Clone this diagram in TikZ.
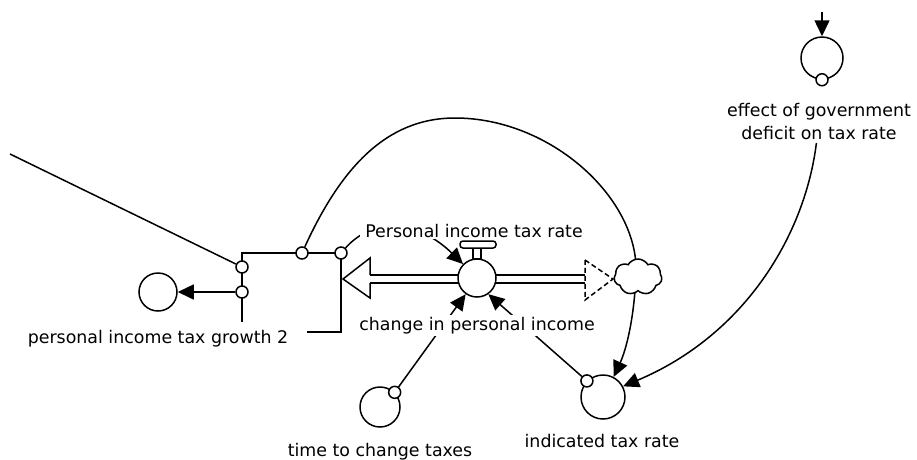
\documentclass[tikz,border=0pt]{standalone}
\usepackage{fontspec}
\setmainfont{DejaVu Sans}
\usetikzlibrary{arrows.meta,shapes.symbols,backgrounds,positioning}

\begin{document}
\begin{tikzpicture}[x=1pt,y=-1pt,line width=1.5pt,
    >={Triangle[length=16pt,width=15pt]},
    aux/.style={circle,draw,fill=white,minimum size=40pt,inner sep=0pt},
    pin/.style={circle,draw,fill=white,minimum size=12pt,inner sep=0pt},
    lbl/.style={fill=white,inner xsep=5pt,inner ysep=2pt,anchor=base,
                font=\fontsize{17.4}{23}\selectfont}]
  \useasboundingbox (0,0) rectangle (917,459);
  % auxiliaries and valve
  \node[aux,minimum size=38pt] (growth) at (158,292) {};
  \node[aux] (time) at (380,407) {};
  \node[aux,minimum size=44pt] (indicated) at (603,397) {};
  \node[aux,minimum size=42pt] (effect) at (822,58) {};
  \node[aux,minimum size=38pt] (valve) at (477,278) {};
  \node[cloud,draw,fill=white,cloud puffs=7,cloud puff arc=120,aspect=1.3,
        minimum width=48pt,minimum height=36pt,inner sep=0pt] (sink) at (638,277) {};
  % small pins
  \node[pin] (pa) at (242,267) {};
  \node[pin] (pb) at (242,292) {};
  \node[pin] (pc) at (302,253) {};
  \node[pin] (pd) at (341,253) {};
  \node[pin] (ptime) at (time.45) {};
  \node[pin] (pindicated) at (indicated.135) {};
  \node[pin] (peffect) at (effect.south) {};
  % labels
  \node[lbl] (lrate) at (474,237) {Personal income tax rate};
  \node[lbl] (lchange) at (477,330) {change in personal income};
  \node[lbl] (lgrowth) at (158,343) {personal income tax growth 2};
  \node[lbl] (ltime) at (380,456) {time to change taxes};
  \node[lbl] (lindicated) at (602,447) {indicated tax rate};
  \node[lbl,anchor=center,align=center] (leffect) at (819,122)
       {effect of government\\deficit on tax rate};
  % valve top
  \draw[fill=white] (473,248) rectangle (481,259);
  \draw[fill=white,rounded corners=3pt] (460,241) rectangle (496,248);
  \begin{scope}[on background layer={line width=1.5pt}]
    \coordinate (offleft) at (10,154);
    \coordinate (offtop) at (822,12);
    \coordinate (gtop) at (242,253);
    \coordinate (gbot) at (242,322);
    \coordinate (rbot) at (341,332);
    \coordinate (rend) at (307,332);
    % frame round the growth pins
    \draw (gbot) -- (gtop) -- (pd.center) -- (rbot) -- (rend);
    \draw (offleft) -- (pa);
    \draw[->] (pb) -- (growth);
    % flow pipe
    \draw (370,275) -- (585,275) (370,283) -- (585,283);
    \draw (370,275) -- (370,258) -- (343,279) -- (370,298) -- (370,283);
    \draw[dash pattern=on 5pt off 3pt] (585,260) -- (613,279) -- (585,300) -- cycle;
    % links
    \draw[->] (pd) .. controls (375,215) and (420,222) .. (valve.135);
    \draw[->] (ptime) -- (valve.235);
    \draw[->] (pindicated) -- (valve.305);
    \draw[->] (pc) .. controls (340,170) and (385,118) .. (455,118)
       .. controls (552,118) and (640,200) .. (636,275)
       .. controls (634,320) and (626,350) .. (indicated.62);
    \draw[->] (leffect) .. controls (805,235) and (745,335) .. (indicated.28);
    \draw[->] (offtop) -- (effect);
  \end{scope}
\end{tikzpicture}
\end{document}
